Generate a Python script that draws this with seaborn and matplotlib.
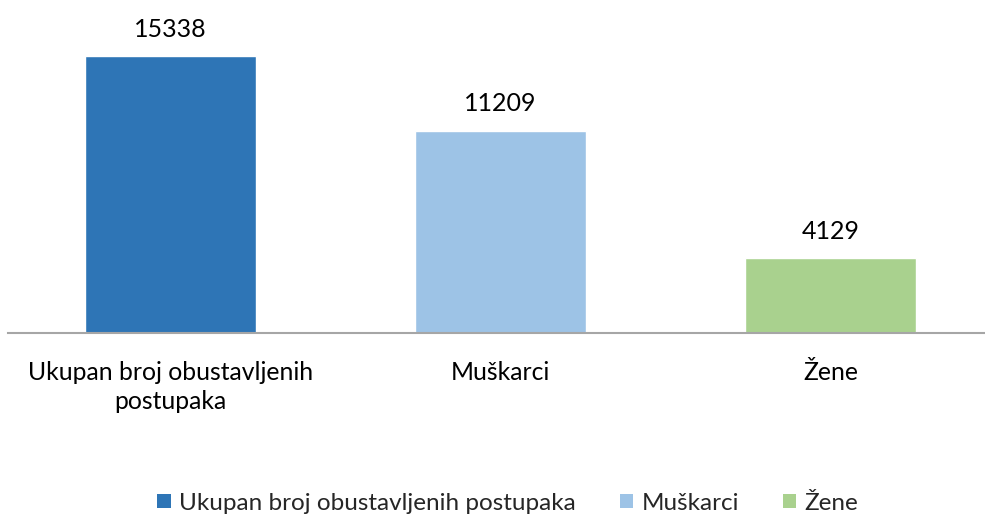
import matplotlib
matplotlib.use("Agg")
import matplotlib.pyplot as plt
import pandas as pd
import seaborn as sns
from matplotlib.patches import Patch

categories = ["Ukupan broj obustavljenih postupaka", "Muškarci", "Žene"]
tick_labels = ["Ukupan broj obustavljenih\npostupaka", "Muškarci", "Žene"]
values = [15338, 11209, 4129]
colors = ["#2E75B6", "#9DC3E6", "#A9D18E"]

df = pd.DataFrame({"kategorija": categories, "broj": values})

sns.set_style("white")
plt.rcParams["font.family"] = ["Lato", "DejaVu Sans"]

fig = plt.figure(figsize=(9.85, 5.14), dpi=100)
ax = fig.add_axes([8 / 985, 181 / 514, 977 / 985, 325 / 514])

sns.barplot(data=df, x="kategorija", y="broj", hue="kategorija",
            palette=colors, width=0.518, legend=False, ax=ax, saturation=1)

ax.set_xlim(-0.492, 2.468)
ax.set_ylim(0, 18000)
for sp in ["top", "right", "left"]:
    ax.spines[sp].set_visible(False)
ax.spines["bottom"].set_color("#A6A6A6")
ax.spines["bottom"].set_linewidth(1.5)
ax.set_yticks([])
ax.set_xticks(range(len(tick_labels)))
ax.set_xticklabels(tick_labels, fontsize=17.8, color="#000000",
                   multialignment="center", linespacing=1.35)
ax.tick_params(axis="x", length=0, pad=20)
ax.set_xlabel("")
ax.set_ylabel("")

for i, v in enumerate(values):
    ax.annotate(str(v), (i, v), xytext=(0, 11), textcoords="offset points",
                ha="center", va="bottom", fontsize=18, color="#000000")

handles = [Patch(facecolor=c, edgecolor="none") for c in colors]
fig.legend(handles, categories, loc="center", bbox_to_anchor=(508 / 985, 1 - 503 / 514),
           ncol=3, frameon=False, fontsize=17.5, handlelength=0.55, handleheight=0.55,
           handletextpad=0.35, columnspacing=1.8)

fig.savefig("out.png", dpi=100)
